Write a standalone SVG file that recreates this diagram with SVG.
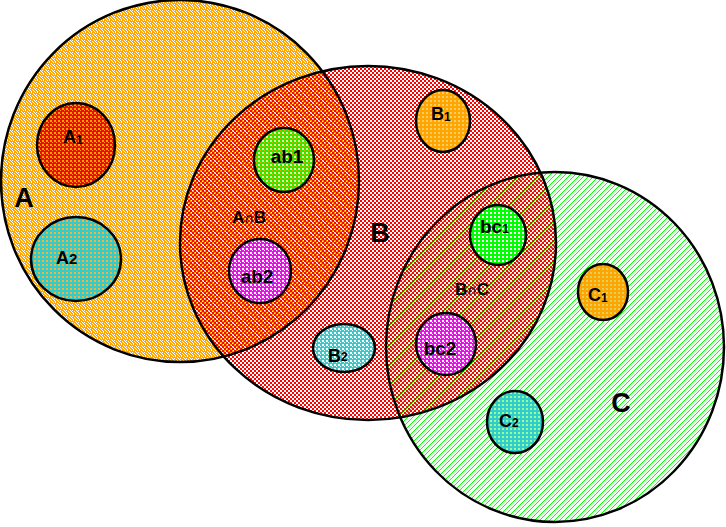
<svg xmlns="http://www.w3.org/2000/svg" width="726" height="527" viewBox="0 0 726 527">
<style>
.big{stroke:#000;stroke-width:2.5;fill:none}
.sm{stroke:#000;stroke-width:2.5}
.t{font-family:"Liberation Sans",Arial,sans-serif;font-weight:bold;fill:#000}
.lbl{font-size:18px}
.lw{font-size:19px}
.sub{font-size:12px}
.big-l{font-size:27px}
.mid{font-size:17px}
.cap{font-family:"DejaVu Sans",sans-serif;font-weight:normal;font-size:13px}
</style>
<defs>
<pattern id="pA" width="6" height="6" patternUnits="userSpaceOnUse">
<rect width="6" height="6" fill="#FFA500"/>
<rect x="0" y="0" width="1" height="1" fill="#fff"/><rect x="3" y="0" width="1" height="1" fill="#fff"/>
<rect x="4" y="1" width="1" height="1" fill="#fff"/><rect x="1" y="1" width="1" height="1" fill="#fff"/>
<rect x="1" y="2" width="1" height="1" fill="#fff"/><rect x="5" y="2" width="1" height="1" fill="#fff"/>
<rect x="3" y="3" width="1" height="1" fill="#fff"/>
<rect x="0" y="4" width="1" height="1" fill="#fff"/><rect x="4" y="4" width="1" height="1" fill="#fff"/>
<rect x="2" y="5" width="1" height="1" fill="#fff"/><rect x="5" y="5" width="1" height="1" fill="#fff"/>
</pattern>
<pattern id="pB" width="4" height="4" patternUnits="userSpaceOnUse">
<rect x="0" y="0" width="2" height="2" fill="#FF0000"/><rect x="2" y="2" width="2" height="2" fill="#FF0000"/>
</pattern>
<pattern id="pC" width="5" height="5" patternUnits="userSpaceOnUse">
<rect width="5" height="5" fill="#EEFFEE"/>
<rect x="4" y="0" width="1" height="1" fill="#00FF00"/><rect x="3" y="1" width="1" height="1" fill="#00FF00"/>
<rect x="2" y="2" width="1" height="1" fill="#00FF00"/><rect x="1" y="3" width="1" height="1" fill="#00FF00"/>
<rect x="0" y="4" width="1" height="1" fill="#00FF00"/>
</pattern>
<pattern id="pRedO" width="4" height="4" patternUnits="userSpaceOnUse"><rect width="4" height="4" fill="#FF0000"/><rect x="2" y="0" width="2" height="2" fill="#FFA500"/><rect x="0" y="2" width="1" height="1" fill="#FFA500"/></pattern>
<pattern id="pCyanO" width="4" height="4" patternUnits="userSpaceOnUse"><rect width="4" height="4" fill="#33CCCC"/><rect x="2" y="0" width="2" height="2" fill="#FFB030"/></pattern>
<pattern id="pGreenO" width="4" height="4" patternUnits="userSpaceOnUse"><rect width="4" height="4" fill="#00FF00"/><rect x="2" y="0" width="2" height="2" fill="#FFEE99"/><rect x="0" y="2" width="1" height="1" fill="#FFA500"/></pattern>
<pattern id="pMagW" width="4" height="4" patternUnits="userSpaceOnUse"><rect width="4" height="4" fill="#FF00FF"/><rect x="2" y="0" width="2" height="2" fill="#FFFFFF"/><rect x="0" y="2" width="1" height="1" fill="#FFFFFF"/></pattern>
<pattern id="pOrR" width="4" height="4" patternUnits="userSpaceOnUse"><rect width="4" height="4" fill="#FFA500"/><rect x="2" y="0" width="2" height="2" fill="#FFCC66"/></pattern>
<pattern id="pCyanW" width="4" height="4" patternUnits="userSpaceOnUse"><rect width="4" height="4" fill="#33CCCC"/><rect x="2" y="0" width="2" height="2" fill="#FFFFFF"/><rect x="0" y="2" width="1" height="1" fill="#FFFFFF"/></pattern>
<pattern id="pGreenW" width="4" height="4" patternUnits="userSpaceOnUse"><rect width="4" height="4" fill="#00FF00"/><rect x="2" y="0" width="2" height="2" fill="#FFFFFF"/></pattern>
<pattern id="pOrG" width="4" height="4" patternUnits="userSpaceOnUse"><rect width="4" height="4" fill="#FFA500"/><rect x="2" y="0" width="2" height="2" fill="#DDD060"/></pattern>
<pattern id="pCyanG" width="4" height="4" patternUnits="userSpaceOnUse"><rect width="4" height="4" fill="#33CCCC"/><rect x="2" y="0" width="2" height="2" fill="#99FF99"/></pattern>
</defs>

<g id="sets-fill">
<ellipse cx="180" cy="181" rx="179" ry="181" fill="url(#pA)"/>
<ellipse cx="555" cy="347" rx="169" ry="175" fill="url(#pC)"/>
<ellipse cx="368" cy="243" rx="188" ry="177" fill="url(#pB)"/>
</g>
<g id="set-A"><ellipse class="big" cx="180" cy="181" rx="179" ry="181"/><text class="t big-l" x="24" y="207" text-anchor="middle">A</text></g>
<g id="set-B"><ellipse class="big" cx="368" cy="243" rx="188" ry="177"/><text class="t big-l" x="380" y="242" text-anchor="middle">B</text></g>
<g id="set-C"><ellipse class="big" cx="555" cy="347" rx="169" ry="175"/><text class="t big-l" x="621" y="412" text-anchor="middle">C</text></g>

<g id="label-AB"><text class="t mid" x="232" y="223">A<tspan class="cap">∩</tspan>B</text></g>
<g id="label-BC"><text class="t mid" x="455" y="295">B<tspan class="cap">∩</tspan>C</text></g>

<g id="A1"><ellipse class="sm" cx="76" cy="145" rx="39" ry="42" fill="url(#pRedO)"/><text class="t" x="63" y="143"><tspan class="lbl">A</tspan><tspan class="sub" dy="1">1</tspan></text></g>
<g id="A2"><ellipse class="sm" cx="76" cy="259" rx="45" ry="42" fill="url(#pCyanO)"/><text class="t" x="56" y="264"><tspan class="lbl">A</tspan><tspan style="font-size:15px">2</tspan></text></g>
<g id="ab1"><ellipse class="sm" cx="284" cy="160" rx="30" ry="32" fill="url(#pGreenO)"/><text class="t lw" x="287" y="163" text-anchor="middle">ab1</text></g>
<g id="ab2"><ellipse class="sm" cx="260" cy="271" rx="31" ry="32" fill="url(#pMagW)"/><text class="t lw" x="257" y="283" text-anchor="middle">ab2</text></g>
<g id="B1"><ellipse class="sm" cx="443" cy="121" rx="27" ry="31" fill="url(#pOrR)"/><text class="t" x="431" y="120"><tspan class="lbl">B</tspan><tspan class="sub" dy="1">1</tspan></text></g>
<g id="B2"><ellipse class="sm" cx="344" cy="348" rx="31" ry="24" fill="url(#pCyanW)"/><text class="t" x="328" y="362"><tspan class="lbl">B</tspan><tspan class="sub" dy="-1">2</tspan></text></g>
<g id="bc1"><ellipse class="sm" cx="498" cy="235" rx="28" ry="30" fill="url(#pGreenW)"/><text class="t" x="480" y="233"><tspan class="lw">bc</tspan><tspan class="sub">1</tspan></text></g>
<g id="bc2"><ellipse class="sm" cx="446" cy="344" rx="30" ry="31" fill="url(#pMagW)"/><text class="t lw" x="440" y="355" text-anchor="middle">bc2</text></g>
<g id="C1"><ellipse class="sm" cx="603" cy="292" rx="25" ry="28" fill="url(#pOrG)"/><text class="t" x="588" y="301"><tspan class="lbl">C</tspan><tspan class="sub" dy="1">1</tspan></text></g>
<g id="C2"><ellipse class="sm" cx="515" cy="422" rx="28" ry="31" fill="url(#pCyanG)"/><text class="t" x="499" y="427"><tspan class="lbl">C</tspan><tspan class="sub">2</tspan></text></g>
</svg>
